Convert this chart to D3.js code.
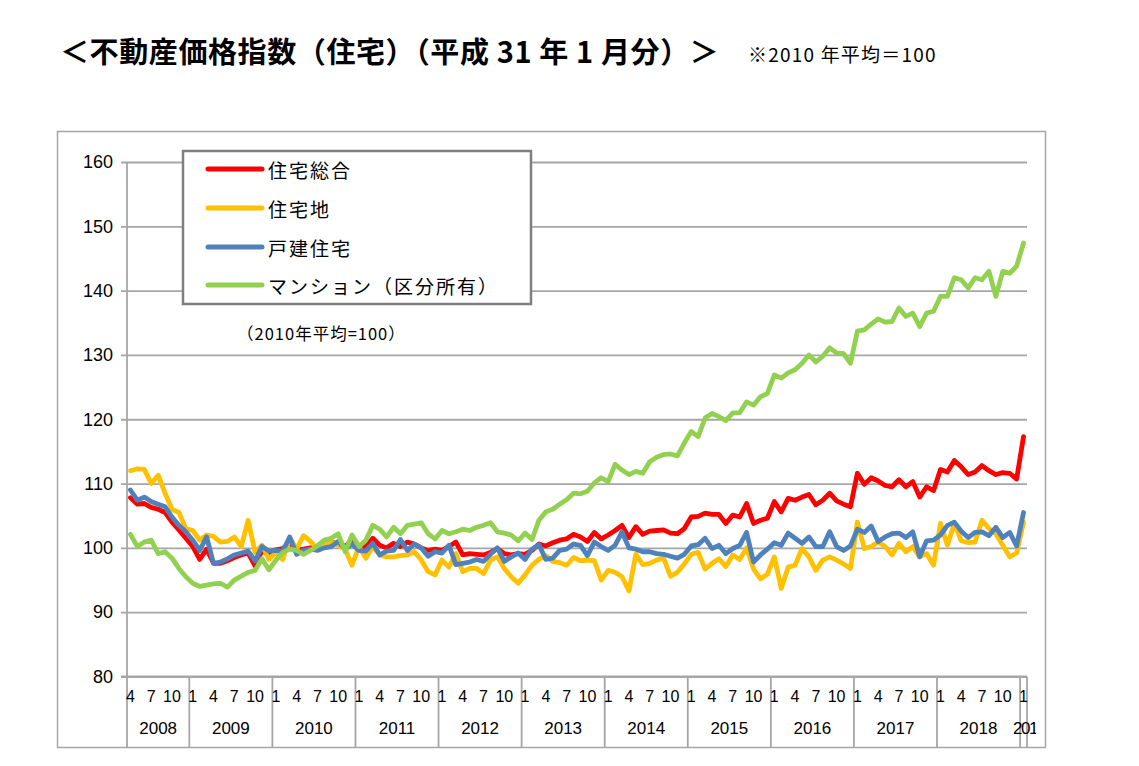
<!DOCTYPE html>
<html>
<head>
<meta charset="utf-8">
<script src="https://cdn.jsdelivr.net/npm/d3@7"></script>
<style>
  body { margin: 0; background: #fff; }
  text { font-family: "Liberation Sans", "Noto Sans CJK JP", sans-serif; fill: #000; }
  .jp { font-family: "Noto Sans CJK JP", sans-serif; }
</style>
</head>
<body>
<svg id="chart"></svg>
<script>
// monthly index, Apr 2008 .. Jan 2019 (2010 avg = 100)
const seriesNames = ["住宅総合", "住宅地", "戸建住宅", "マンション（区分所有）"];
const seriesColors = ["#ff0000", "#ffc000", "#4f81bd", "#92d050"];

const total = [
  107.8, 106.8, 106.9, 106.3, 106.0, 105.5, 104.0, 102.8, 101.5, 100.2,
  98.2, 99.8, 97.6, 97.6, 98.0, 98.5, 98.9, 99.2, 97.2, 99.6,
  99.3, 99.7, 99.9, 100.8, 99.6, 99.8, 100.0, 100.2, 100.3, 100.9,
  100.6, 100.2, 101.2, 100.0, 100.2, 101.5, 100.4, 100.0, 100.7, 100.2,
  100.9, 100.6, 100.0, 99.6, 99.8, 99.6, 100.2, 100.9, 98.9, 99.1,
  99.0, 98.9, 99.3, 99.9, 99.1, 98.9, 99.1, 99.0, 99.6, 100.6,
  100.3, 100.8, 101.2, 101.4, 102.1, 101.7, 101.0, 102.4, 101.4, 102.0,
  102.7, 103.5, 101.6, 103.3, 102.1, 102.6, 102.7, 102.8, 102.3, 102.2,
  103.0, 104.8, 104.9, 105.4, 105.2, 105.2, 103.8, 105.1, 104.8, 106.9,
  103.8, 104.3, 104.6, 107.2, 105.6, 107.7, 107.4, 107.9, 108.3, 106.7,
  107.4, 108.5, 107.3, 106.8, 106.4, 111.6, 109.9, 110.9, 110.4, 109.7,
  109.5, 110.6, 109.5, 110.3, 107.9, 109.5, 108.9, 112.2, 111.8, 113.6,
  112.6, 111.4, 111.8, 112.8, 112.0, 111.4, 111.7, 111.6, 110.7, 117.3
];

const land = [
  112.0, 112.3, 112.2, 110.0, 111.3, 108.5, 106.0, 105.5, 103.0, 102.7,
  101.2, 102.0, 101.8, 100.9, 101.0, 101.7, 100.2, 104.3, 99.3, 100.4,
  98.2, 99.3, 98.2, 101.6, 99.8, 101.9, 101.0, 99.8, 100.5, 100.9,
  100.4, 99.8, 97.3, 100.2, 98.4, 100.2, 98.9, 98.6, 98.6, 98.8,
  98.9, 99.4, 98.1, 96.3, 95.8, 98.1, 97.0, 99.1, 96.3, 96.8,
  96.8, 96.0, 98.1, 98.6, 96.8, 95.5, 94.5, 95.8, 97.3, 98.2,
  98.8, 97.9, 97.7, 97.3, 98.5, 98.0, 98.1, 98.0, 95.0, 96.5,
  96.2, 95.5, 93.3, 99.0, 97.4, 97.6, 98.1, 98.4, 95.6, 96.2,
  97.5, 99.0, 99.3, 96.7, 97.6, 98.3, 97.1, 98.9, 98.2, 100.0,
  96.7, 95.2, 95.9, 98.6, 93.7, 97.0, 97.3, 99.9, 98.6, 96.5,
  98.1, 98.6, 98.1, 97.5, 96.8, 104.0, 99.9, 100.2, 100.9, 100.2,
  98.9, 100.7, 99.4, 100.2, 98.6, 99.1, 97.3, 103.8, 100.4, 103.8,
  101.1, 100.8, 100.9, 104.3, 103.0, 102.2, 100.4, 98.6, 99.2, 104.0
];

const detached = [
  109.0, 107.4, 107.9, 107.2, 106.8, 106.4, 104.8, 103.5, 102.5, 101.2,
  99.6, 101.7, 97.6, 97.8, 98.3, 98.9, 99.2, 99.5, 98.0, 100.2,
  99.5, 99.6, 99.5, 101.7, 99.0, 99.6, 99.8, 99.6, 100.0, 100.2,
  101.0, 99.8, 100.6, 99.6, 99.5, 100.7, 98.9, 99.5, 99.6, 101.3,
  99.6, 100.6, 100.0, 98.7, 99.4, 99.2, 100.4, 97.4, 97.6, 97.8,
  98.2, 97.9, 99.0, 100.0, 97.9, 98.6, 99.2, 98.2, 99.8, 100.5,
  98.2, 98.4, 99.6, 99.8, 100.6, 100.4, 98.8, 100.9, 100.2, 99.6,
  100.4, 102.5, 100.0, 99.8, 99.4, 99.4, 99.1, 99.0, 98.7, 98.4,
  99.0, 100.3, 100.5, 101.5, 99.9, 100.4, 99.1, 99.9, 100.4, 102.4,
  97.8, 98.9, 99.8, 100.8, 100.4, 102.3, 101.5, 100.7, 101.7, 100.2,
  100.2, 102.5, 100.2, 99.6, 100.3, 102.9, 102.4, 103.4, 101.0, 101.7,
  102.2, 102.3, 101.6, 102.5, 98.6, 101.1, 101.2, 102.0, 103.5, 104.0,
  102.6, 101.6, 102.4, 102.5, 101.9, 103.2, 101.6, 102.4, 100.3, 105.5
];

const condo = [
  102.1, 100.2, 100.9, 101.2, 99.1, 99.4, 98.4, 96.8, 95.5, 94.5,
  94.0, 94.2, 94.4, 94.5, 93.9, 95.0, 95.6, 96.2, 96.5, 98.3,
  96.6, 98.1, 99.3, 99.8, 99.6, 99.0, 99.6, 100.3, 101.2, 101.5,
  102.2, 99.4, 102.0, 100.2, 101.2, 103.5, 102.9, 101.7, 103.2, 102.2,
  103.5, 103.7, 103.9, 102.2, 101.4, 102.7, 102.2, 102.5, 102.9, 102.7,
  103.2, 103.5, 103.9, 102.5, 102.3, 102.0, 101.1, 102.3, 101.3, 104.3,
  105.6, 106.0, 106.8, 107.5, 108.5, 108.4, 108.8, 110.1, 110.9, 110.3,
  113.0, 112.1, 111.4, 111.9, 111.6, 113.4, 114.1, 114.5, 114.6, 114.3,
  116.3, 118.1, 117.3, 120.2, 120.9, 120.4, 119.8, 121.0, 121.0, 122.7,
  122.2, 123.5, 124.0, 126.9, 126.4, 127.2, 127.7, 128.7, 130.0, 128.9,
  129.8, 131.1, 130.3, 130.2, 128.7, 133.7, 133.9, 134.8, 135.6, 135.1,
  135.2, 137.3, 136.0, 136.5, 134.4, 136.5, 136.8, 139.1, 139.1, 142.0,
  141.7, 140.4, 142.0, 141.7, 143.0, 139.1, 143.0, 142.7, 143.8, 147.4
];

const years = [2008, 2009, 2010, 2011, 2012, 2013, 2014, 2015, 2016, 2017, 2018, 2019];
const monthTicks = [1, 4, 7, 10];
const yTicks = [80, 90, 100, 110, 120, 130, 140, 150, 160];

// category list: year/month for each point
const months = [];
years.forEach((yr) => {
  for (let m = 1; m <= 12; m++) {
    if (yr === 2008 && m < 4) continue;
    if (yr === 2019 && m > 1) continue;
    months.push({ year: yr, month: m });
  }
});

const W = 1139, H = 766;
const plot = { left: 127, right: 1027, top: 162, bottom: 676.5, tableBottom: 747.5 };

const svg = d3.select("#chart").attr("width", W).attr("height", H);

// title
svg.append("text").attr("class", "jp")
  .attr("x", 60).attr("y", 63)
  .style("font-size", "29px").style("font-weight", "bold")
  .style("letter-spacing", "0.6px")
  .text("＜不動産価格指数（住宅）（平成 31 年 1 月分）＞");
svg.append("text").attr("class", "jp")
  .attr("x", 748).attr("y", 62)
  .style("font-size", "19px")
  .style("letter-spacing", "1.2px")
  .text("※2010 年平均＝100");

// chart frame
svg.append("rect")
  .attr("x", 57.5).attr("y", 131.5)
  .attr("width", 988).attr("height", 616)
  .attr("fill", "none").attr("stroke", "#a6a6a6").attr("stroke-width", 1.5);

// scales
const x = d3.scaleBand().domain(d3.range(months.length)).range([plot.left, plot.right]);
const y = d3.scaleLinear().domain([80, 160]).range([plot.bottom, plot.top]);
const cx = (i) => x(i) + x.bandwidth() / 2;

// gridlines + y axis
const yAxis = d3.axisLeft(y).tickValues(yTicks).tickSize(-(plot.right - plot.left)).tickPadding(14);
const yAxisG = svg.append("g").attr("transform", `translate(${plot.left},0)`).call(yAxis);
yAxisG.select(".domain").remove();
yAxisG.selectAll(".tick line").attr("stroke", "#a6a6a6").attr("stroke-width", 1.8).attr("x1", -6);
yAxisG.selectAll(".tick text")
  .style("font-size", "18px").style("font-family", "Liberation Sans, sans-serif").attr("fill", "#000");

// vertical axis line down through the category table
svg.append("line")
  .attr("x1", plot.left).attr("x2", plot.left).attr("y1", plot.top).attr("y2", plot.tableBottom)
  .attr("stroke", "#a6a6a6").attr("stroke-width", 1.8);

// category table: year boundaries
const boundaries = [];
months.forEach((d, i) => { if (i === 0 || d.month === 1) boundaries.push(i); });
svg.selectAll(".yearsep")
  .data(boundaries.slice(1).concat([months.length]))
  .join("line")
  .attr("class", "yearsep")
  .attr("x1", (i) => (i === months.length ? plot.right : x(i)))
  .attr("x2", (i) => (i === months.length ? plot.right : x(i)))
  .attr("y1", plot.bottom).attr("y2", plot.tableBottom)
  .attr("stroke", "#a6a6a6").attr("stroke-width", 1.8);

// month labels
svg.selectAll(".mlabel")
  .data(months.map((d, i) => ({ ...d, i })).filter((d) => monthTicks.includes(d.month)))
  .join("text")
  .attr("class", "mlabel")
  .attr("x", (d) => cx(d.i))
  .attr("y", 702)
  .attr("text-anchor", "middle")
  .style("font-size", "16px")
  .text((d) => d.month);

// year labels (last one overflows its one-month cell and gets cut)
svg.append("clipPath").attr("id", "tableClip")
  .append("rect").attr("x", plot.left).attr("y", plot.bottom)
  .attr("width", 909).attr("height", plot.tableBottom - plot.bottom);
svg.selectAll(".ylabel")
  .data(boundaries)
  .join("text")
  .attr("class", "ylabel")
  .attr("clip-path", "url(#tableClip)")
  .attr("x", (b, k) => {
    const end = k + 1 < boundaries.length ? boundaries[k + 1] : months.length;
    return k + 1 < boundaries.length ? (x(b) + x(end - 1) + x.bandwidth()) / 2 : x(b) - 7;
  })
  .attr("y", 734)
  .attr("text-anchor", (b, k) => (k + 1 < boundaries.length ? "middle" : "start"))
  .style("font-size", "17px")
  .style("letter-spacing", (b, k) => (k + 1 < boundaries.length ? "0px" : "-1.5px"))
  .text((b) => months[b].year);

// horizontal axis line
svg.append("line")
  .attr("x1", plot.left - 6).attr("x2", plot.right).attr("y1", plot.bottom).attr("y2", plot.bottom)
  .attr("stroke", "#a6a6a6").attr("stroke-width", 1.8);

// series lines
const line = d3.line().x((d, i) => cx(i)).y((d) => y(d));
const allSeries = [total, land, detached, condo];
svg.selectAll(".series")
  .data(allSeries)
  .join("path")
  .attr("class", "series")
  .attr("d", (d) => line(d))
  .attr("fill", "none")
  .attr("stroke", (d, k) => seriesColors[k])
  .attr("stroke-width", 4.8)
  .attr("stroke-linejoin", "round")
  .attr("stroke-linecap", "round");

// legend
const legend = svg.append("g");
legend.append("rect")
  .attr("x", 183).attr("y", 151).attr("width", 348).attr("height", 153)
  .attr("fill", "#fff").attr("stroke", "#7f7f7f").attr("stroke-width", 2.5);
const rowY = [169, 208, 247, 285];
seriesNames.forEach((name, k) => {
  legend.append("line")
    .attr("x1", 208).attr("x2", 262).attr("y1", rowY[k]).attr("y2", rowY[k])
    .attr("stroke", seriesColors[k]).attr("stroke-width", 5).attr("stroke-linecap", "round");
  legend.append("text").attr("class", "jp")
    .attr("x", 268).attr("y", rowY[k])
    .attr("dominant-baseline", "central")
    .style("font-size", "19px")
    .style("letter-spacing", "2px")
    .text(name);
});

// base note
svg.append("text").attr("class", "jp")
  .attr("x", 237).attr("y", 333)
  .attr("dominant-baseline", "central")
  .style("font-size", "16.5px")
  .style("letter-spacing", "1px")
  .text("（2010年平均=100）");
</script>
</body>
</html>
